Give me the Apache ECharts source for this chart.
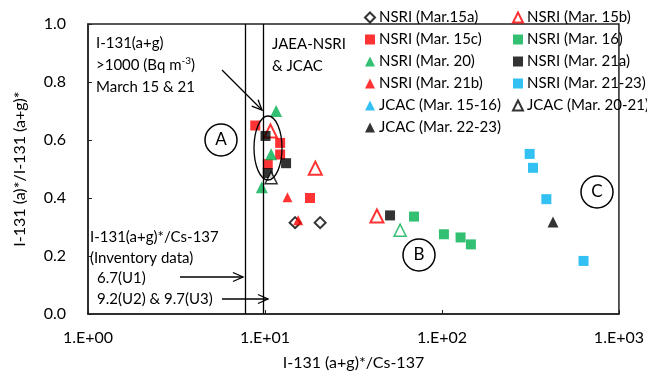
<!DOCTYPE html>
<html><head><meta charset="utf-8">
<script src="https://cdn.jsdelivr.net/npm/echarts@6/dist/echarts.min.js"></script>
<style>html,body{margin:0;padding:0;background:#fff}#c{width:647px;height:376px}</style>
</head><body><div id="c"></div>
<script>
// ---- data ----
const xTickValues = [1, 10, 100, 1000];
const yTickValues = [0, 0.2, 0.4, 0.6, 0.8, 1.0];
const inventoryLines = [7.75, 9.75];

const nsri15a = [[14.8, 0.315], [20.5, 0.315]];
const nsri15b = [[10.74, 0.631], [19.25, 0.503], [42.9, 0.338]];
const nsri15c = [[8.81, 0.65], [12.18, 0.59], [12.18, 0.55], [10.37, 0.517], [17.97, 0.40]];
const nsri16 = [[69.5, 0.336], [102.6, 0.275], [127.4, 0.264], [145.7, 0.24]];
const nsri20 = [[11.56, 0.70], [10.83, 0.551], [9.6, 0.437]];
const nsri21a = [[10.07, 0.614], [13.16, 0.52], [10.37, 0.486], [50.9, 0.34]];
const nsri21b = [[13.4, 0.403], [15.4, 0.323]];
const nsri2123 = [[313, 0.552], [327, 0.504], [389, 0.396], [631, 0.183]];
const jcac1516 = [[58.0, 0.289]];
const jcac2021 = [[10.83, 0.47]];
const jcac2223 = [[424, 0.317]];

const names = ['NSRI (Mar.15a)', 'NSRI (Mar. 15b)', 'NSRI (Mar. 15c)', 'NSRI (Mar. 16)',
  'NSRI (Mar. 20)', 'NSRI (Mar. 21a)', 'NSRI (Mar. 21b)', 'NSRI (Mar. 21-23)',
  'JCAC (Mar. 15-16)', 'JCAC (Mar. 20-21)', 'JCAC (Mar. 22-23)'];

// ---- styling ----
const FONT = 'Lato';
const RED = '#FF0000', GREEN = '#00B050', BLACK = '#000000', BLUE = '#00B0F0';

function sc(name, data, symbol, size, fill, border) {
  return {
    type: 'scatter', name, data, symbol, symbolSize: size,
    itemStyle: border ? { color: fill, borderColor: border, borderWidth: 2 } : { color: fill },
    emphasis: { disabled: true }
  };
}

const jcac1516Data = jcac1516.map(p => ({ value: p, itemStyle: { color: '#fff', borderColor: GREEN, borderWidth: 1.5 } }));

const series = [
  sc(names[0], nsri15a, 'diamond', 11, '#fff', BLACK),
  sc(names[1], nsri15b, 'triangle', 13, '#fff', RED),
  sc(names[2], nsri15c, 'rect', 10, RED),
  sc(names[3], nsri16, 'rect', 10, GREEN),
  sc(names[4], nsri20, 'triangle', 12, GREEN),
  sc(names[5], nsri21a, 'rect', 10, BLACK),
  sc(names[6], nsri21b, 'triangle', 10, RED),
  sc(names[7], nsri2123, 'rect', 10, BLUE),
  sc(names[8], jcac1516Data, 'triangle', 12, BLUE),
  sc(names[9], jcac2021, 'triangle', 12, '#fff', BLACK),
  sc(names[10], jcac2223, 'triangle', 11, BLACK)
];
series[9].itemStyle.borderWidth = 1.5;
series.push({
  type: 'scatter', data: [], silent: true,
  markLine: {
    symbol: 'none', silent: true, label: { show: false },
    lineStyle: { color: '#000', width: 1.3, type: 'solid' },
    data: inventoryLines.map(v => ({ xAxis: v }))
  }
});

function arrow(x1, y1, x2, y2) {
  const a = Math.atan2(y2 - y1, x2 - x1), L = 11, h = 0.42;
  return [
    { type: 'line', shape: { x1, y1, x2, y2 }, style: { stroke: '#000', lineWidth: 1.3 }, z: 100 },
    { type: 'polyline', shape: { points: [
      [x2 - L * Math.cos(a - h), y2 - L * Math.sin(a - h)], [x2, y2],
      [x2 - L * Math.cos(a + h), y2 - L * Math.sin(a + h)]] },
      style: { stroke: '#000', lineWidth: 1.3, fill: null }, z: 100 }
  ];
}
function circ(cx, cy, t) {
  return [
    { type: 'circle', shape: { cx, cy, r: 16 }, style: { stroke: '#000', lineWidth: 1.5, fill: 'rgba(0,0,0,0)' }, z: 100 },
    { type: 'text', x: cx, y: cy, style: { text: t, font: '17px ' + FONT, fill: '#000', align: 'center', verticalAlign: 'middle' }, z: 100 }
  ];
}
function txt(x, y, text, extra) {
  return Object.assign({ type: 'text', x, y, z: 100,
    style: { text, font: '15px ' + FONT, fill: '#000', verticalAlign: 'middle' } }, extra || {});
}

const graphics = [].concat(
  circ(221, 140, 'A'), circ(419, 255, 'B'), circ(597, 192, 'C'),
  [{ type: 'ellipse', shape: { cx: 268, cy: 148, rx: 14, ry: 32 }, style: { stroke: '#000', lineWidth: 1.3, fill: 'rgba(0,0,0,0)' }, z: 100 }],
  arrow(222, 70, 262, 110),
  arrow(180, 277, 243, 277),
  arrow(222, 299, 268, 299),
  [
    txt(96, 43, 'I-131(a+g)'),
    { type: 'text', x: 96, y: 65, z: 100, style: { text: '>1000 (Bq m{s|-3})', font: '15px ' + FONT, fill: '#000', verticalAlign: 'middle',
      rich: { s: { fontSize: 10, fontFamily: FONT, verticalAlign: 'top', padding: [0, 0, 8, 0] } } } },
    txt(96, 87, 'March 15 & 21'),
    txt(272, 44, 'JAEA-NSRI'),
    txt(272, 66, '& JCAC'),
    txt(90, 237, 'I-131(a+g)*/Cs-137'),
    txt(90, 258, '(Inventory data)'),
    txt(97, 278, '6.7(U1)'),
    txt(97, 299, '9.2(U2) & 9.7(U3)')
  ]
);

const legendCommon = {
  orient: 'vertical', itemWidth: 10, itemHeight: 10, itemGap: 7, selectedMode: false,
  textStyle: { fontFamily: FONT, fontSize: 15, color: '#000', lineHeight: 14, padding: [0, 0, 0, -1] },
  padding: 0
};

const chart = echarts.init(document.getElementById('c'), null, { renderer: 'canvas' });
chart.setOption({
  animation: false,
  backgroundColor: '#fff',
  textStyle: { fontFamily: FONT },
  grid: { left: 88, right: 27, top: 24, bottom: 60, show: true, borderColor: '#222', borderWidth: 1.5, backgroundColor: 'rgba(0,0,0,0)' },
  legend: [
    Object.assign({ left: 364, top: 10, data: [names[0], names[2], names[4], names[6], names[8], names[10]] }, legendCommon),
    Object.assign({ left: 512, top: 10, data: [names[1], names[3], names[5], names[7], names[9]] }, legendCommon)
  ],
  xAxis: {
    type: 'log', logBase: 10, min: xTickValues[0], max: xTickValues[xTickValues.length - 1],
    name: 'I-131 (a+g)*/Cs-137', nameLocation: 'middle', nameGap: 41,
    nameTextStyle: { fontFamily: FONT, fontSize: 16, color: '#000' },
    axisLine: { show: true, lineStyle: { color: '#222', width: 1.5 } },
    axisTick: { show: true, inside: true, length: 4, lineStyle: { color: '#222' } },
    minorTick: { show: false },
    splitLine: { show: false },
    axisLabel: { margin: 16, fontFamily: FONT, fontSize: 16, color: '#000',
      formatter: v => { const e = Math.round(Math.log10(v)); return '1.E+' + (e < 10 ? '0' : '') + e; } }
  },
  yAxis: {
    type: 'value', min: yTickValues[0], max: yTickValues[yTickValues.length - 1], interval: 0.2,
    name: 'I-131 (a)*/I-131 (a+g)*', nameLocation: 'middle', nameGap: 60,
    nameTextStyle: { fontFamily: FONT, fontSize: 16, color: '#000' },
    axisLine: { show: true, lineStyle: { color: '#222', width: 1.5 } },
    axisTick: { show: true, inside: true, length: 4, lineStyle: { color: '#222' } },
    splitLine: { show: false },
    axisLabel: { margin: 22, fontFamily: FONT, fontSize: 16, color: '#000', formatter: v => v.toFixed(1) }
  },
  series,
  graphic: graphics
});
</script></body></html>
